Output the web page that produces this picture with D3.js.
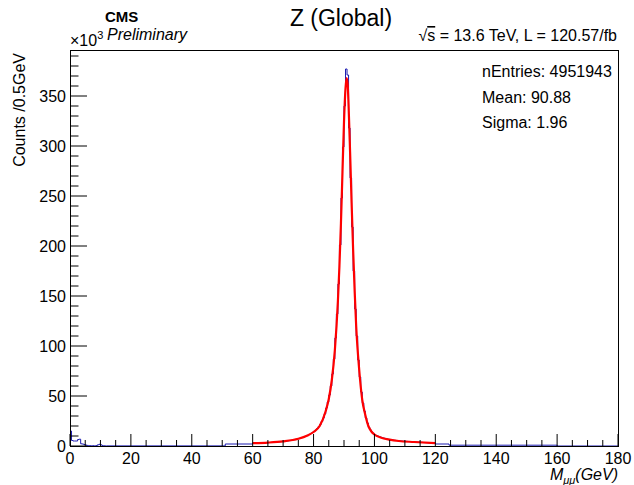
<!DOCTYPE html>
<html>
<head>
<meta charset="utf-8">
<script src="https://cdn.jsdelivr.net/npm/d3@7"></script>
<style>
  body { margin: 0; background: #fff; }
  text { font-family: "Liberation Sans", Arial, Helvetica, sans-serif; fill: #000; }
</style>
</head>
<body>
<svg width="634" height="485"></svg>
<script>
// all counts in units of 10^3 entries per 0.5 GeV bin
const binWidth = 0.5;

// 0 - 12 GeV (J/psi and Upsilon bumps)
const lowMassStart = 0;
const lowMassCounts = [15, 5.5, 5.0, 5.0, 5.0, 6.5, 6.8, 2.2, 2.0, 1.5, 1.0, 0.6,
  0.4, 0.3, 0.3, 0.3, 0.2, 0.4, 1.2, 1.7, 1.2, 0.4, 0.2, 0.1];

// 60 - 120 GeV, Z peak
const peakStart = 60;
const peakCounts = [
  2.8, 2.8, 2.9, 2.9, 3.0, 3.0, 3.1, 3.2, 3.2, 3.3,
  3.4, 3.5, 3.6, 3.7, 3.8, 3.9, 4.0, 4.2, 4.3, 4.5,
  4.6, 4.8, 5.0, 5.2, 5.4, 5.7, 6.0, 6.3, 6.6, 7.0,
  7.4, 7.9, 8.4, 8.9, 9.5, 10.2, 10.9, 11.7, 12.6, 13.6,
  14.5, 16.0, 17.5, 19.3, 21.5, 24.5, 28, 32, 38, 44,
  51, 60, 72, 87, 108, 132, 162, 201, 248, 299,
  340, 377, 371, 318, 268, 219, 175, 137, 110, 86,
  69, 54, 43, 35, 28, 23, 18.5, 16, 13.8, 12.3,
  11.2, 10.5, 9.8, 9.2, 8.7, 8.2, 7.8, 7.4, 7.0, 6.7,
  6.4, 6.1, 5.9, 5.7, 5.5, 5.3, 5.2, 5.0, 4.9, 4.8,
  4.7, 4.6, 4.5, 4.4, 4.3, 4.2, 4.1, 4.0, 3.9, 3.8,
  3.7, 3.6, 3.5, 3.4, 3.3, 3.2, 3.1, 3.0, 2.9, 2.8
];

// flat stretches of the histogram, read as plateaus
const plateauFrom  = [12, 51, 120, 124.5, 160];
const plateauTo    = [51, 60, 124.5, 160, 180];
const plateauCount = [0.1, 2.0, 2.0, 0.8, 0];

// fitted line shape
const fitMass   = [60, 65, 70, 75, 78, 80, 82, 84, 85, 86, 87, 88, 88.5, 89, 89.5, 90, 90.5, 90.85,
  91.2, 91.5, 92, 92.5, 93, 93.5, 94, 95, 96, 97, 98, 99, 100, 102, 105, 108, 113, 120];
const fitCounts = [2.8, 3.4, 4.6, 7.2, 10.5, 14, 20, 35, 47, 66, 96, 145, 180, 223, 274, 324, 358, 368,
  362, 341, 294, 243, 196, 155, 120, 76, 46, 31, 20, 14.5, 11.5, 8.5, 6.3, 5.0, 4.0, 2.8];

const xMajor = d3.range(0, 181, 20);
const xMinor = d3.range(0, 181, 5);
const yMajor = d3.range(0, 351, 50);
const yMinor = d3.range(0, 391, 10);

const statsLines = ['nEntries: 4951943', 'Mean: 90.88', 'Sigma: 1.96'];

const svg = d3.select('svg');
const frame = {left: 70, right: 618, top: 50, bottom: 446};

const x = d3.scaleLinear().domain([0, 180]).range([frame.left, frame.right]);
const y = d3.scaleLinear().domain([0, 396]).range([frame.bottom, frame.top]);

svg.append('defs').append('clipPath').attr('id', 'clip')
  .append('rect')
    .attr('x', frame.left).attr('y', frame.top)
    .attr('width', frame.right - frame.left)
    .attr('height', frame.bottom - frame.top);

// collect histogram segments
const segs = [];
lowMassCounts.forEach((c, i) => segs.push({x0: lowMassStart + i * binWidth, x1: lowMassStart + (i + 1) * binWidth, c}));
peakCounts.forEach((c, i) => segs.push({x0: peakStart + i * binWidth, x1: peakStart + (i + 1) * binWidth, c}));
plateauFrom.forEach((f, i) => segs.push({x0: f, x1: plateauTo[i], c: plateauCount[i]}));
segs.sort((a, b) => a.x0 - b.x0);

const path = d3.path();
path.moveTo(x(0), y(0));
segs.forEach(s => {
  path.lineTo(x(s.x0), y(s.c));
  path.lineTo(x(s.x1), y(s.c));
});
path.lineTo(x(180), y(0));

const plot = svg.append('g').attr('clip-path', 'url(#clip)');

plot.append('path')
  .attr('d', path.toString())
  .attr('fill', 'none')
  .attr('stroke', '#1c1cb0')
  .attr('stroke-width', 1);

const fitLine = d3.line()
  .x((d, i) => x(fitMass[i]))
  .y(d => y(d))
  .curve(d3.curveMonotoneX);

plot.append('path')
  .attr('d', fitLine(fitCounts))
  .attr('fill', 'none')
  .attr('stroke', '#ff0000')
  .attr('stroke-width', 2.2);

// frame
svg.append('rect')
  .attr('x', frame.left + 0.5).attr('y', frame.top + 0.5)
  .attr('width', frame.right - frame.left).attr('height', frame.bottom - frame.top)
  .attr('fill', 'none').attr('stroke', '#000').attr('stroke-width', 1);

// ticks point inward
const axisG = svg.append('g').attr('stroke', '#000').attr('stroke-width', 1);
xMinor.forEach(v => {
  const major = xMajor.includes(v);
  axisG.append('line')
    .attr('x1', x(v)).attr('x2', x(v))
    .attr('y1', frame.bottom).attr('y2', frame.bottom - (major ? 12 : 6));
});
yMinor.forEach(v => {
  const major = yMajor.includes(v);
  axisG.append('line')
    .attr('x1', frame.left).attr('x2', frame.left + (major ? 17 : 8.5))
    .attr('y1', y(v)).attr('y2', y(v));
});

svg.selectAll('.xlab').data(xMajor).enter().append('text')
  .attr('class', 'xlab')
  .attr('x', d => x(d)).attr('y', 464)
  .attr('text-anchor', 'middle')
  .attr('font-size', 16)
  .text(d => d);

svg.selectAll('.ylab').data(yMajor).enter().append('text')
  .attr('class', 'ylab')
  .attr('x', 66).attr('y', d => y(d) + 6)
  .attr('text-anchor', 'end')
  .attr('font-size', 16)
  .text(d => d);

// exponent
const expo = svg.append('text').attr('x', 70).attr('y', 46).attr('font-size', 16);
expo.append('tspan').text('×10');
expo.append('tspan').attr('dy', -7).attr('font-size', 11).text('3');

// axis titles
svg.append('text')
  .attr('transform', 'translate(25,53) rotate(-90)')
  .attr('text-anchor', 'end')
  .attr('font-size', 16)
  .text('Counts /0.5GeV');

const xt = svg.append('text')
  .attr('x', 618).attr('y', 480)
  .attr('text-anchor', 'end')
  .attr('font-size', 16)
  .attr('font-style', 'italic');
xt.append('tspan').text('M');
xt.append('tspan').attr('dy', 4).attr('font-size', 11).text('μμ');
xt.append('tspan').attr('dy', -4).text('(GeV)');

// header
svg.append('text')
  .attr('x', 341).attr('y', 26)
  .attr('text-anchor', 'middle')
  .attr('font-size', 23)
  .text('Z (Global)');

svg.append('text')
  .attr('x', 105).attr('y', 22)
  .attr('font-size', 15)
  .attr('font-weight', 'bold')
  .text('CMS');

svg.append('text')
  .attr('x', 107).attr('y', 40)
  .attr('font-size', 16)
  .attr('font-style', 'italic')
  .text('Preliminary');

const lumi = svg.append('text')
  .attr('x', 617).attr('y', 41)
  .attr('text-anchor', 'end')
  .attr('font-size', 16);
lumi.append('tspan').text('√');
lumi.append('tspan').attr('text-decoration', 'overline').text('s');
lumi.append('tspan').text(' = 13.6 TeV, L = 120.57/fb');

svg.selectAll('.stat').data(statsLines).enter().append('text')
  .attr('class', 'stat')
  .attr('x', 482).attr('y', (d, i) => 77 + i * 25.5)
  .attr('font-size', 16)
  .text(d => d);
</script>
</body>
</html>
